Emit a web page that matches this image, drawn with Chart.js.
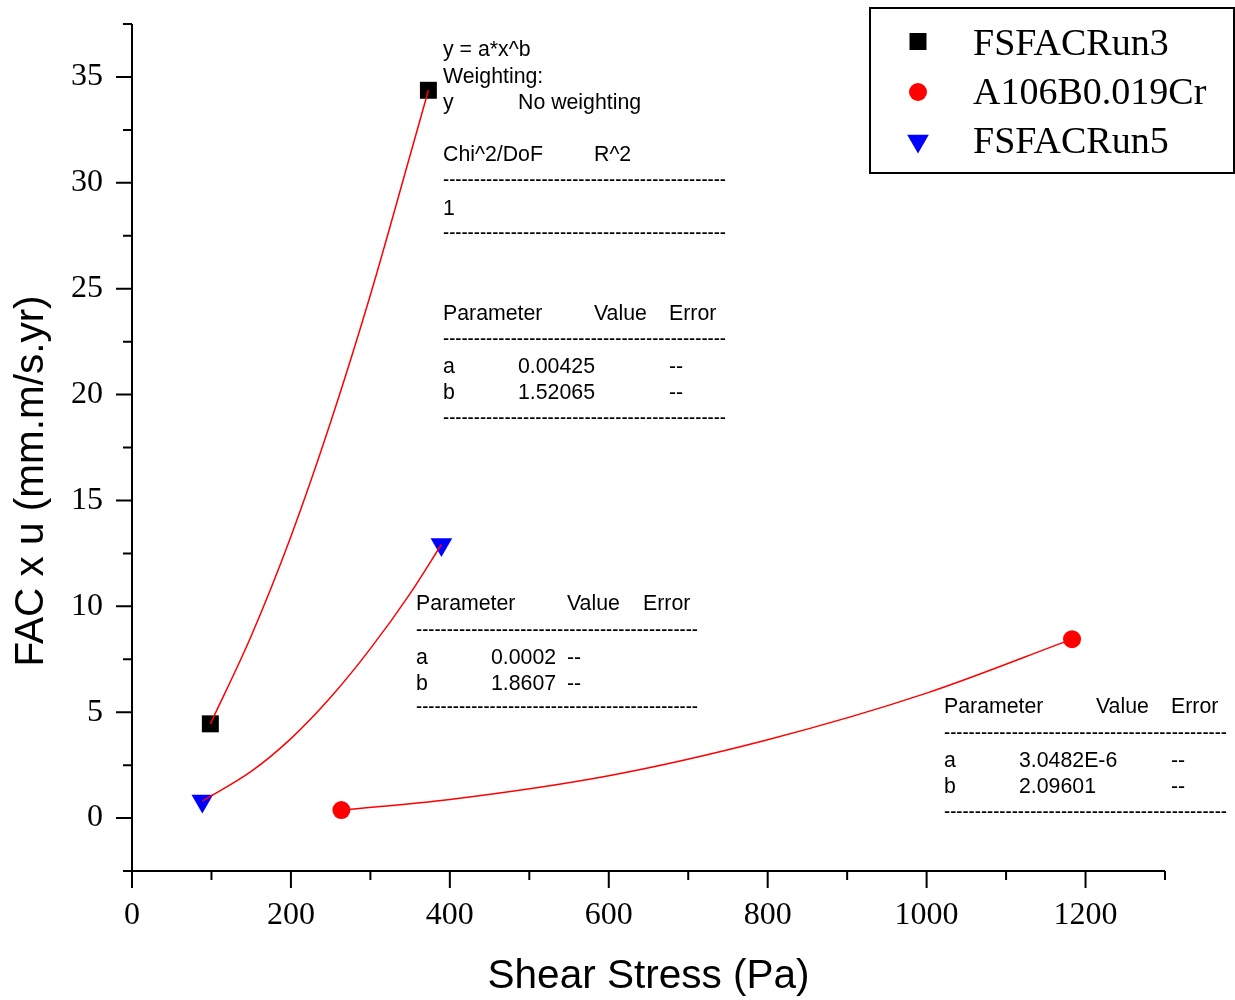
<!DOCTYPE html>
<html>
<head>
<meta charset="utf-8">
<script src="https://cdn.jsdelivr.net/npm/chart.js@4.4.1/dist/chart.umd.min.js"></script>
<style>
  html, body { margin: 0; padding: 0; background: #fff; }
</style>
</head>
<body>
<canvas id="fitChart" width="1235" height="1000"></canvas>
<script>
// measured points (Shear stress in Pa, FAC x u)
const seriesNames = ['FSFACRun3', 'A106B0.019Cr', 'FSFACRun5'];
const run3X = [98.6, 373];
const run3Y = [4.45, 34.37];
const crX = [263.5, 1183];
const crY = [0.38, 8.45];
const run5X = [88.5, 389.4];
const run5Y = [0.8, 12.92];

// fitted power curves
const run3FitX = [98.6, 150, 200, 250, 300, 350, 373];
const run3FitY = [4.45, 8.6, 13.3, 18.7, 24.7, 31.3, 34.37];
const crFitX = [263.5, 400, 600, 800, 1000, 1183];
const crFitY = [0.38, 0.88, 2.0, 3.7, 5.9, 8.45];
const run5FitX = [88.5, 150, 200, 250, 300, 350, 389.4];
const run5FitY = [0.8, 2.2, 3.75, 5.7, 8.0, 10.6, 12.92];

// axis ticks
const xMin = 0, xMax = 1300, xStep = 100, xLabelStep = 200;
const yMin = -2.5, yMax = 37.5, yStep = 2.5, yLabelStep = 5;

const xTitle = 'Shear Stress (Pa)';
const yTitle = 'FAC x u (mm.m/s.yr)';

function pts(xs, ys) {
    return xs.map((x, i) => ({ x: x, y: ys[i] }));
}

const serifFont = '"Liberation Serif", "Times New Roman", serif';
const sansFont = '"Liberation Sans", Arial, sans-serif';

// text boxes written by the fitting tool
const dashes = '-'.repeat(46);
const noteBlocks = [
    { x: 443, w: 283, rows: [
        { y: 48, cols: [[0, 'y = a*x^b']] },
        { y: 75, cols: [[0, 'Weighting:']] },
        { y: 101, cols: [[0, 'y'], [75, 'No weighting']] },
        { y: 153, cols: [[0, 'Chi^2/DoF'], [151, 'R^2']] },
        { y: 180, dash: true },
        { y: 207, cols: [[0, '1']] },
        { y: 233, dash: true },
        { y: 312, cols: [[0, 'Parameter'], [151, 'Value'], [226, 'Error']] },
        { y: 339, dash: true },
        { y: 365, cols: [[0, 'a'], [75, '0.00425'], [226, '--']] },
        { y: 391, cols: [[0, 'b'], [75, '1.52065'], [226, '--']] },
        { y: 418, dash: true }
    ]},
    { x: 416, w: 282, rows: [
        { y: 602, cols: [[0, 'Parameter'], [151, 'Value'], [227, 'Error']] },
        { y: 630, dash: true },
        { y: 656, cols: [[0, 'a'], [75, '0.0002'], [151, '--']] },
        { y: 682, cols: [[0, 'b'], [75, '1.8607'], [151, '--']] },
        { y: 707, dash: true }
    ]},
    { x: 944, w: 283, rows: [
        { y: 705, cols: [[0, 'Parameter'], [152, 'Value'], [227, 'Error']] },
        { y: 733, dash: true },
        { y: 759, cols: [[0, 'a'], [75, '3.0482E-6'], [227, '--']] },
        { y: 785, cols: [[0, 'b'], [75, '2.09601'], [227, '--']] },
        { y: 812, dash: true }
    ]}
];

function drawMarker(ctx, kind, color, x, y) {
    ctx.fillStyle = color;
    ctx.beginPath();
    if (kind === 'rect') {
        ctx.rect(x - 8.5, y - 8.5, 17, 17);
    } else if (kind === 'circle') {
        ctx.arc(x, y, 9, 0, Math.PI * 2);
    } else {
        const r = 12.5;
        ctx.moveTo(x - r * 0.866, y - r / 2);
        ctx.lineTo(x + r * 0.866, y - r / 2);
        ctx.lineTo(x, y + r);
        ctx.closePath();
    }
    ctx.fill();
}

const decoPlugin = {
    id: 'deco',
    afterDraw(chart) {
        const ctx = chart.ctx;
        const a = chart.chartArea;
        const xs = chart.scales.x, ys = chart.scales.y;
        ctx.save();

        // axis lines and ticks
        ctx.strokeStyle = '#000';
        ctx.lineWidth = 2;
        ctx.beginPath();
        ctx.moveTo(a.left, a.top);
        ctx.lineTo(a.left, a.bottom);
        ctx.moveTo(a.left, a.bottom);
        ctx.lineTo(a.right, a.bottom);
        ys.ticks.forEach(t => {
            const py = ys.getPixelForValue(t.value);
            const major = Math.abs(t.value % yLabelStep) < 1e-6;
            ctx.moveTo(a.left - (major ? 16 : 9), py);
            ctx.lineTo(a.left, py);
        });
        xs.ticks.forEach(t => {
            const px = xs.getPixelForValue(t.value);
            const major = t.value % xLabelStep === 0;
            ctx.moveTo(px, a.bottom);
            ctx.lineTo(px, a.bottom + (major ? 17 : 9));
        });
        ctx.stroke();

        // axis titles
        ctx.fillStyle = '#000';
        ctx.font = '40.5px ' + sansFont;
        ctx.textAlign = 'center';
        ctx.textBaseline = 'alphabetic';
        ctx.fillText(xTitle, (a.left + a.right) / 2, 988);
        ctx.save();
        ctx.translate(43, 481);
        ctx.rotate(-Math.PI / 2);
        ctx.fillText(yTitle, 0, 0);
        ctx.restore();

        // fit notes
        ctx.font = '21.3px ' + sansFont;
        ctx.textAlign = 'left';
        noteBlocks.forEach(b => {
            b.rows.forEach(r => {
                if (r.dash) {
                    ctx.fillText(dashes, b.x, r.y + 6, b.w);
                } else {
                    r.cols.forEach(c => ctx.fillText(c[1], b.x + c[0], r.y + 7.5));
                }
            });
        });

        // legend
        ctx.lineWidth = 2;
        ctx.strokeRect(870, 8, 364, 165);
        const kinds = ['rect', 'circle', 'triangle'];
        const colors = ['#000000', '#ff0000', '#0000ff'];
        const markY = [41.5, 92, 141];
        const baseY = [55, 104, 153];
        ctx.font = '38px ' + serifFont;
        seriesNames.forEach((n, i) => {
            drawMarker(ctx, kinds[i], colors[i], 918, markY[i]);
            ctx.fillStyle = '#000';
            ctx.fillText(n, 973, baseY[i]);
        });
        ctx.restore();
    }
};

const fitStyle = {
    showLine: true,
    borderColor: '#ff0000',
    borderWidth: 1.5,
    pointRadius: 0,
    cubicInterpolationMode: 'monotone',
    order: 0
};

new Chart(document.getElementById('fitChart'), {
    type: 'scatter',
    data: {
        datasets: [
            { label: seriesNames[0], data: pts(run3X, run3Y), pointStyle: 'rect', pointRadius: 12,
              backgroundColor: '#000000', borderColor: '#000000', pointBorderWidth: 0, order: 1 },
            { label: seriesNames[1], data: pts(crX, crY), pointStyle: 'circle', pointRadius: 9,
              backgroundColor: '#ff0000', borderColor: '#ff0000', pointBorderWidth: 0, order: 1 },
            { label: seriesNames[2], data: pts(run5X, run5Y), pointStyle: 'triangle', pointRotation: 180, pointRadius: 12.5,
              backgroundColor: '#0000ff', borderColor: '#0000ff', pointBorderWidth: 0, order: 1 },
            Object.assign({ label: 'fit3', data: pts(run3FitX, run3FitY) }, fitStyle),
            Object.assign({ label: 'fitCr', data: pts(crFitX, crFitY) }, fitStyle),
            Object.assign({ label: 'fit5', data: pts(run5FitX, run5FitY) }, fitStyle)
        ]
    },
    options: {
        responsive: false,
        animation: false,
        layout: { padding: { top: 24, right: 70, left: 0, bottom: 0 } },
        plugins: {
            legend: { display: false },
            tooltip: { enabled: false }
        },
        scales: {
            x: {
                type: 'linear',
                min: xMin,
                max: xMax,
                afterFit: s => { s.height = 129; s.paddingLeft = 0; s.paddingRight = 0; },
                grid: { display: false, drawTicks: false },
                border: { display: false },
                ticks: {
                    stepSize: xStep,
                    autoSkip: false,
                    maxRotation: 0,
                    padding: 25,
                    color: '#000',
                    font: { family: serifFont, size: 32 },
                    callback: v => (v % xLabelStep === 0 && v < xMax) ? String(v) : ''
                }
            },
            y: {
                type: 'linear',
                min: yMin,
                max: yMax,
                afterFit: s => { s.width = 132; s.paddingTop = 0; s.paddingBottom = 0; },
                grid: { display: false, drawTicks: false },
                border: { display: false },
                ticks: {
                    stepSize: yStep,
                    autoSkip: false,
                    padding: 29,
                    color: '#000',
                    font: { family: serifFont, size: 32 },
                    callback: v => (Math.abs(v % yLabelStep) < 1e-6 && v >= 0 && v <= 35) ? String(v) : ''
                }
            }
        }
    },
    plugins: [decoPlugin]
});
</script>
</body>
</html>
